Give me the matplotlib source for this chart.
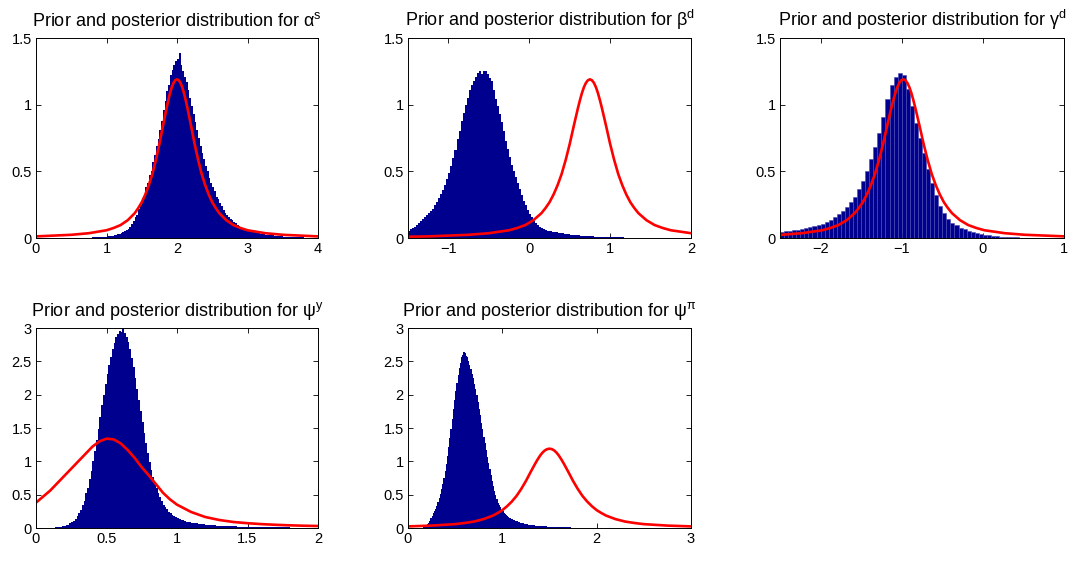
import numpy as np
import matplotlib
matplotlib.use('Agg')
import matplotlib.pyplot as plt
from matplotlib.ticker import FuncFormatter

plt.rcParams['font.family'] = ['Liberation Sans', 'DejaVu Sans']
plt.rcParams['mathtext.fontset'] = 'custom'
plt.rcParams['mathtext.rm'] = 'Liberation Sans'
plt.rcParams['mathtext.it'] = 'Liberation Sans:italic'
plt.rcParams['mathtext.bf'] = 'Liberation Sans:bold'

HIST_COLOR = '#00008F'
PRIOR_COLOR = '#FF0000'

# ---------------- data ----------------
titles = [r'Prior and posterior distribution for $\mathrm{\alpha^{s}}$',
          r'Prior and posterior distribution for $\mathrm{\beta^{d}}$',
          r'Prior and posterior distribution for $\mathrm{\gamma^{d}}$',
          r'Prior and posterior distribution for $\mathrm{\psi^{y}}$',
          r'Prior and posterior distribution for $\mathrm{\psi^{\pi}}$']

# posterior histograms: segments of (first bin edge, bin width, bin heights)
alpha_s_start, alpha_s_width = 0.8, 0.025
alpha_s_hist = [.004, .005, .006, .006, .007, .008, .009, .010, .012, .013,
                .016, .018, .020, .023, .027, .031, .036, .042, .049, .058,
                .070, .085, .105, .125, .155, .175, .22, .25, .30, .33,
                .38, .41, .47, .50, .57, .62, .69, .74, .81, .88,
                .96, 1.03, 1.10, 1.15, 1.22, 1.26, 1.30, 1.33, 1.34, 1.39,
                1.30, 1.25, 1.21, 1.17, 1.11, 1.05, .99, .93, .87, .81,
                .75, .69, .64, .59, .54, .50, .45, .41, .38, .35,
                .31, .29, .26, .24, .21, .19, .175, .16, .145, .135,
                .12, .11, .10, .09, .083, .077, .07, .064, .058, .054,
                .049, .045, .042, .038, .035, .033, .030, .028, .026, .024,
                .022, .020, .019, .017, .016, .014, .013, .012, .011, .010,
                .0095, .009, .0085, .008, .007, .0065, .006, .0055, .005, .0045]

beta_d_start, beta_d_width = -1.5, 0.025
beta_d_hist = [.055, .065, .075, .085, .10, .11, .125, .14, .155, .175,
               .19, .20, .22, .25, .27, .30, .33, .36, .40, .44,
               .49, .54, .60, .66, .74, .80, .88, .94, 1.00, 1.05,
               1.11, 1.15, 1.18, 1.21, 1.24, 1.25, 1.23, 1.25, 1.25, 1.23,
               1.20, 1.18, 1.11, 1.04, .99, .93, .87, .80, .73, .67,
               .61, .55, .50, .46, .41, .37, .32, .28, .25, .21,
               .18, .16, .13, .11, .095, .085, .074, .066, .06, .056,
               .052, .048, .045, .043, .039, .037, .034, .032, .030, .028,
               .026, .024, .023, .021, .020, .018, .017, .015, .0145, .0135,
               .0125, .0115, .0105, .0095, .009, .0085, .008, .0075, .007, .0065,
               .006, .0055, .005, .0045, .004, .004, .004, .0035, .003, .003,
               .003, .0025, .002, .002, .002, .002, .002, .0015, .001, .001]

gamma_d_start, gamma_d_width = -2.5, 0.05
gamma_d_hist = [0.045, 0.05, 0.055, 0.058, 0.062, 0.067, 0.073, 0.08, 0.088, 0.097,
                0.107, 0.12, 0.135, 0.155, 0.18, 0.205, 0.235, 0.27, 0.31, 0.37,
                0.43, 0.50, 0.59, 0.68, 0.79, 0.91, 1.04, 1.15, 1.21, 1.24,
                1.22, 1.12, 0.99, 0.86, 0.75, 0.64, 0.52, 0.41, 0.32, 0.24,
                0.185, 0.145, 0.115, 0.095, 0.078, 0.065, 0.053, 0.043, 0.035, 0.029,
                0.024, 0.019, 0.015, 0.012, 0.010, 0.008, 0.006, 0.005, 0.004, 0.003,
                0.003, 0.002, 0.002, 0.002, 0.001, 0.001, 0.001, 0.001, 0.001, 0.001]

psi_y_start, psi_y_width = 0.1, 0.0125
psi_y_hist = [.004, .006, .007, .009, .011, .013, .017, .023, .03, .04,
              .052, .068, .088, .112, .14, .18, .225, .275, .35, .41,
              .52, .60, .74, .86, 1.01, 1.15, 1.32, 1.48, 1.66, 1.84,
              1.99, 2.16, 2.31, 2.44, 2.57, 2.69, 2.78, 2.86, 2.91, 2.95,
              2.94, 2.98, 2.93, 2.87, 2.79, 2.69, 2.55, 2.41, 2.25, 2.09,
              1.92, 1.76, 1.59, 1.42, 1.27, 1.12, .99, .87, .77, .68,
              .60, .52, .46, .40, .35, .31, .28, .245, .22, .20,
              .18, .16, .145, .135, .125, .115, .105, .097, .091, .085,
              .080, .076, .072, .068, .064, .060, .057, .053]
psi_y_tail_start, psi_y_tail_width = 1.2, 0.025
psi_y_tail = [.05, .045, .041, .037, .034, .031, .028, .026, .024, .022,
              .02, .019, .017, .016, .015, .014, .013, .012, .011, .010,
              .010, .009, .008, .008, .007, .007, .006, .006, .005, .005,
              .005, .004]

psi_pi_start, psi_pi_width = 0.15, 0.0125
psi_pi_hist = [.006, .014, .022, .038, .058, .082, .11, .15, .18, .22,
               .25, .29, .33, .39, .45, .51, .58, .66, .75, .85,
               .96, 1.08, 1.22, 1.35, 1.49, 1.63, 1.78, 1.92, 2.06, 2.18,
               2.30, 2.40, 2.48, 2.56, 2.60, 2.64, 2.62, 2.58, 2.56, 2.50,
               2.45, 2.39, 2.31, 2.25, 2.16, 2.08, 1.99, 1.89, 1.79, 1.69,
               1.58, 1.48, 1.37, 1.27, 1.17, 1.07, .98, .88, .79, .71,
               .63, .55, .49, .43, .38, .34, .31, .27, .25, .23,
               .21, .19, .175, .165, .15, .14, .13, .12, .113, .107,
               .098, .092, .086, .080]
psi_pi_tail_start, psi_pi_tail_width = 1.2, 0.025
psi_pi_tail = [.073, .064, .057, .051, .045, .040, .036, .032, .029, .026,
               .023, .021, .019, .017, .015, .013, .012, .011, .010, .009,
               .008, .007, .006, .005, .005, .004, .004, .003]

# common prior shape (offset from prior mode, density), used in panels 1,2,3,5
prior_offset = [-3.0, -2.5, -2.0, -1.5, -1.25, -1.0, -0.9, -0.8, -0.7, -0.6, -0.55, -0.5,
                -0.45, -0.4, -0.35, -0.3, -0.25, -0.2, -0.175, -0.15, -0.125, -0.1,
                -0.075, -0.05, -0.025, 0.0,
                0.025, 0.05, 0.075, 0.1, 0.125, 0.15, 0.175, 0.2, 0.25, 0.3, 0.35,
                0.4, 0.45, 0.5, 0.55, 0.6, 0.7, 0.8, 0.9, 1.0, 1.25, 1.5, 2.0, 2.5, 3.0]
prior_density = [0.0045, 0.007, 0.012, 0.024, 0.036, 0.058, 0.075, 0.097, 0.133, 0.186, 0.224, 0.268,
                 0.326, 0.396, 0.48, 0.585, 0.705, 0.84, 0.905, 0.97, 1.03, 1.085,
                 1.13, 1.163, 1.183, 1.19,
                 1.183, 1.163, 1.13, 1.085, 1.03, 0.97, 0.905, 0.84, 0.705, 0.585, 0.48,
                 0.396, 0.326, 0.268, 0.224, 0.186, 0.133, 0.097, 0.075, 0.058, 0.036, 0.024,
                 0.012, 0.007, 0.0045]
prior_mode = {'alpha_s': 2.0, 'beta_d': 0.75, 'gamma_d': -0.98, 'psi_pi': 1.5}

# prior for psi^y
psi_y_prior_x = [0.0, 0.05, 0.1, 0.15, 0.2, 0.25, 0.3, 0.35, 0.4, 0.45, 0.5, 0.55, 0.6,
                 0.65, 0.7, 0.75, 0.8, 0.85, 0.9, 0.95, 1.0, 1.1, 1.2, 1.3, 1.4, 1.5,
                 1.6, 1.7, 1.8, 1.9, 2.0]
psi_y_prior_y = [0.38, 0.47, 0.56, 0.67, 0.78, 0.89, 1.00, 1.11, 1.22, 1.30, 1.34, 1.33, 1.27,
                 1.17, 1.05, 0.91, 0.79, 0.66, 0.53, 0.43, 0.35, 0.24, 0.165, 0.12, 0.09, 0.072,
                 0.058, 0.048, 0.04, 0.034, 0.03]

xlims = [(0, 4), (-1.5, 2), (-2.5, 1), (0, 2), (0, 3)]
xticks = [[0, 1, 2, 3, 4], [-1, 0, 1, 2], [-2, -1, 0, 1], [0, 0.5, 1, 1.5, 2], [0, 1, 2, 3]]
ylims = [(0, 1.5), (0, 1.5), (0, 1.5), (0, 3), (0, 3)]
yticks = [[0, 0.5, 1, 1.5], [0, 0.5, 1, 1.5], [0, 0.5, 1, 1.5],
          [0, 0.5, 1, 1.5, 2, 2.5, 3], [0, 0.5, 1, 1.5, 2, 2.5, 3]]

# ---------------- figure ----------------
fig = plt.figure(figsize=(10.8, 5.62), dpi=100)
W, H = 1080.0, 562.0
boxes = [(36, 38, 282, 200), (408, 38, 283, 200), (780, 38, 284, 200),
         (36, 328, 282, 200), (408, 328, 283, 200)]
axes = [fig.add_axes([l / W, 1 - (t + h) / H, w / W, h / H]) for (l, t, w, h) in boxes]

fmt = FuncFormatter(lambda v, p: ('%g' % v).replace('-', '\u2212'))


def draw_hist(ax, segments):
    edges = [segments[0][0]]
    heights = []
    for start, width, vals in segments:
        e = start + width * np.arange(1, len(vals) + 1)
        edges.extend(e.tolist())
        heights.extend(vals)
    ax.stairs(heights, edges, fill=True, color=HIST_COLOR, linewidth=0, zorder=2)


draw_hist(axes[0], [(alpha_s_start, alpha_s_width, alpha_s_hist)])
draw_hist(axes[1], [(beta_d_start, beta_d_width, beta_d_hist)])
g_edges = gamma_d_start + gamma_d_width * np.arange(len(gamma_d_hist))
axes[2].bar(g_edges, gamma_d_hist, width=gamma_d_width, align='edge', color=HIST_COLOR,
            edgecolor='#4a4ab0', linewidth=0.4, zorder=2)
draw_hist(axes[3], [(psi_y_start, psi_y_width, psi_y_hist),
                    (psi_y_tail_start, psi_y_tail_width, psi_y_tail)])
draw_hist(axes[4], [(psi_pi_start, psi_pi_width, psi_pi_hist),
                    (psi_pi_tail_start, psi_pi_tail_width, psi_pi_tail)])

off = np.array(prior_offset)
for ax, key in zip([axes[0], axes[1], axes[2], axes[4]], ['alpha_s', 'beta_d', 'gamma_d', 'psi_pi']):
    ax.plot(prior_mode[key] + off, prior_density, color=PRIOR_COLOR, linewidth=1.9,
            solid_joinstyle='round', zorder=3)
axes[3].plot(psi_y_prior_x, psi_y_prior_y, color=PRIOR_COLOR, linewidth=1.9,
             solid_joinstyle='round', zorder=3)

for i, ax in enumerate(axes):
    ax.set_xlim(*xlims[i])
    ax.set_ylim(*ylims[i])
    ax.set_xticks(xticks[i])
    ax.set_yticks(yticks[i])
    ax.xaxis.set_major_formatter(fmt)
    ax.yaxis.set_major_formatter(fmt)
    ax.tick_params(direction='in', top=True, right=True, length=3.5, width=0.6,
                   labelsize=10.5, pad=3, colors='black')
    for s in ax.spines.values():
        s.set_linewidth(0.7)
        s.set_zorder(5)
    ax.set_title(titles[i], fontsize=13, pad=9)

fig.savefig('out.png', dpi=100)
